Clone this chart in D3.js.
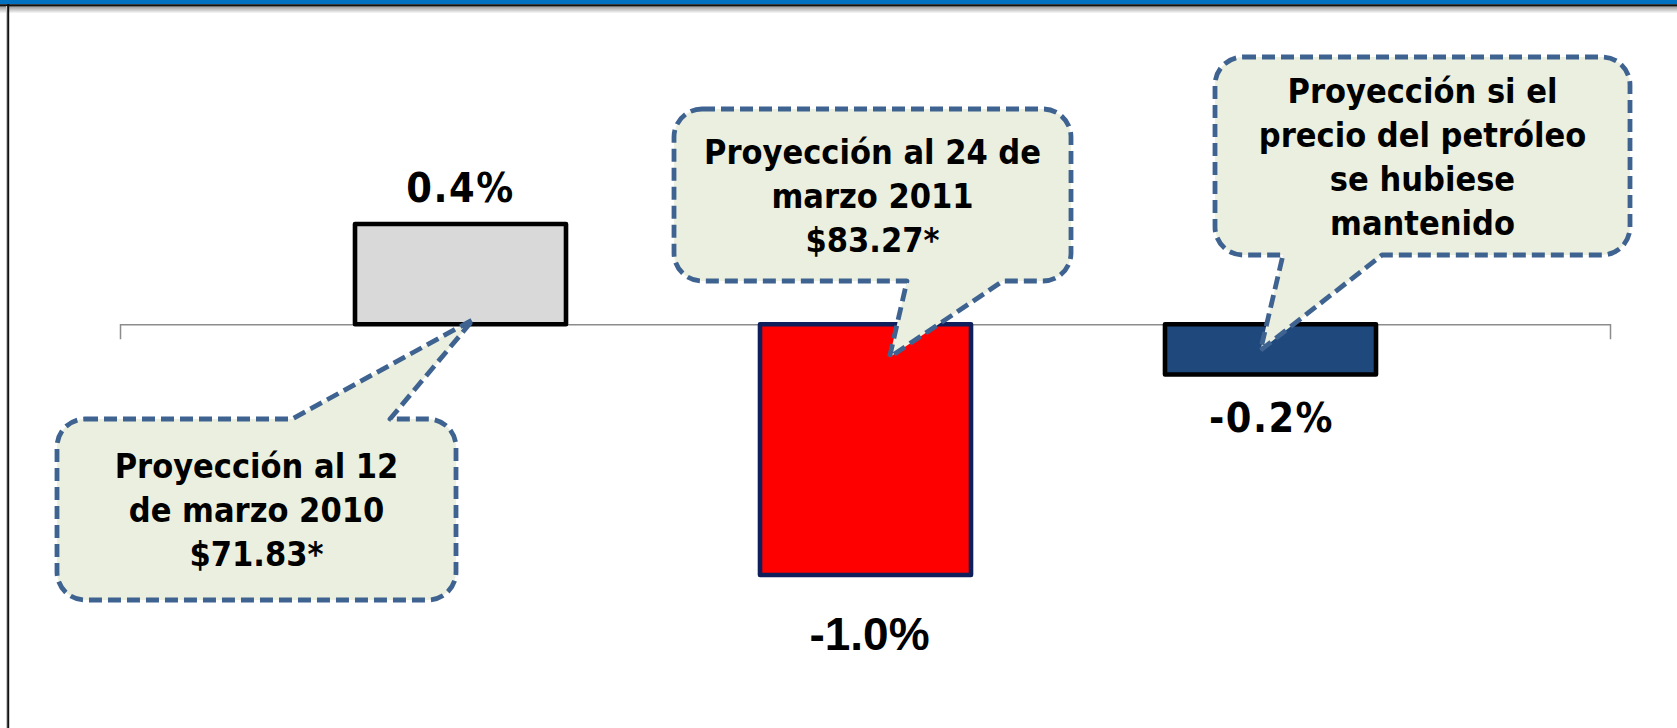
<!DOCTYPE html>
<html>
<head>
<meta charset="utf-8">
<script src="https://cdn.jsdelivr.net/npm/d3@7"></script>
<style>
  html, body { margin: 0; padding: 0; background: #fff; }
  svg { display: block; }
</style>
</head>
<body>
<svg id="chart" width="1677" height="728"></svg>
<script>
// ---------- data ----------
const categories = [
  "Proyección al 12 de marzo 2010",
  "Proyección al 24 de marzo 2011",
  "Proyección si el precio del petróleo se hubiese mantenido"
];
const values = [0.4, -1.0, -0.2];
const valueLabels = ["0.4%", "-1.0%", "-0.2%"];
const calloutLines = [
  ["Proyección al 12", "de marzo 2010", "$71.83*"],
  ["Proyección al 24 de", "marzo 2011", "$83.27*"],
  ["Proyección si el", "precio del petróleo", "se hubiese", "mantenido"]
];

// ---------- styles / layout ----------
const W = 1677, H = 728;
const barFill = ["#D9D9D9", "#FF0000", "#1F497D"];
const barStroke = ["#000000", "#0F1F5C", "#000000"];
const labelFont = ["'DejaVu Sans Condensed','DejaVu Sans',sans-serif",
                   "'Liberation Sans',Arial,sans-serif",
                   "'DejaVu Sans Condensed','DejaVu Sans',sans-serif"];
const labelSize = [41, 46, 41];
const labelOffset = [-22, 75, 58];   // from bar end (negative = above)
const labelDx = [0, 4, 1];

// callout boxes: [x0, y0, x1, y1], pointer base [b1, b2], side, apex offsets (from bar center, from zero line)
const callouts = [
  {box: [57, 419, 456, 600], base: [292, 390], side: "top",    adx: 13,  ady: -5},
  {box: [674, 109, 1071, 281], base: [907, 1003], side: "bottom", adx: 24, ady: 33},
  {box: [1215, 57, 1630, 255], base: [1283, 1382], side: "bottom", adx: -10, ady: 26}
];

const svg = d3.select("#chart");

// ---------- scales ----------
const x = d3.scaleBand()
  .domain(categories)
  .range([258, 1473])
  .paddingInner(0.479)
  .paddingOuter(0.2395);

const y = d3.scaleLinear()
  .domain([-1.0, 0.4])
  .range([575, 224]);

// ---------- frame ----------
const defs = svg.append("defs");
const grad = defs.append("linearGradient").attr("id", "shadow")
  .attr("x1", 0).attr("y1", 0).attr("x2", 0).attr("y2", 1);
grad.append("stop").attr("offset", "0%").attr("stop-color", "#9a9a9a");
grad.append("stop").attr("offset", "100%").attr("stop-color", "#ffffff");

svg.append("rect").attr("x", 0).attr("y", 6.5).attr("width", W).attr("height", 7)
  .attr("fill", "url(#shadow)");
svg.append("rect").attr("x", 0).attr("y", 0).attr("width", W).attr("height", 4.2)
  .attr("fill", "#0070C0");
svg.append("rect").attr("x", 0).attr("y", 4.2).attr("width", W).attr("height", 2.3)
  .attr("fill", "#111");
svg.append("line").attr("x1", 6.5).attr("x2", 6.5).attr("y1", 6).attr("y2", H)
  .attr("stroke", "#c8c8c8").attr("stroke-width", 1);
svg.append("line").attr("x1", 8.2).attr("x2", 8.2).attr("y1", 4).attr("y2", H)
  .attr("stroke", "#111").attr("stroke-width", 2);

// ---------- axis (zero line with end ticks) ----------
const axisScale = d3.scaleLinear().domain([0, 1]).range([120, 1610]);
const axisG = svg.append("g").attr("transform", `translate(0,${y(0)})`)
  .call(d3.axisBottom(axisScale).tickValues([]).tickSizeOuter(15));
axisG.select(".domain").attr("stroke", "#8c8c8c").attr("stroke-width", 1.5);

// ---------- bars ----------
svg.append("g").selectAll("rect")
  .data(values)
  .join("rect")
  .attr("x", (d, i) => x(categories[i]))
  .attr("width", x.bandwidth())
  .attr("y", d => Math.min(y(d), y(0)))
  .attr("height", d => Math.abs(y(d) - y(0)))
  .attr("fill", (d, i) => barFill[i])
  .attr("stroke", (d, i) => barStroke[i])
  .attr("stroke-width", 4.6)
  .attr("stroke-linejoin", "round");

// ---------- callouts ----------
function calloutPath(c, apex) {
  const [x0, y0, x1, y1] = c.box;
  const r = 28;
  const [b1, b2] = c.base;
  const p = d3.path();
  p.moveTo(x0 + r, y0);
  if (c.side === "top") {
    p.lineTo(b1, y0);
    p.lineTo(apex[0], apex[1]);
    p.lineTo(b2, y0);
  }
  p.lineTo(x1 - r, y0);
  p.arcTo(x1, y0, x1, y0 + r, r);
  p.lineTo(x1, y1 - r);
  p.arcTo(x1, y1, x1 - r, y1, r);
  if (c.side === "bottom") {
    p.lineTo(b2, y1);
    p.lineTo(apex[0], apex[1]);
    p.lineTo(b1, y1);
  }
  p.lineTo(x0 + r, y1);
  p.arcTo(x0, y1, x0, y1 - r, r);
  p.lineTo(x0, y0 + r);
  p.arcTo(x0, y0, x0 + r, y0, r);
  p.closePath();
  return p.toString();
}

const cg = svg.append("g").selectAll("g")
  .data(callouts)
  .join("g");

cg.append("path")
  .attr("d", (c, i) => {
    const cx = x(categories[i]) + x.bandwidth() / 2;
    return calloutPath(c, [cx + c.adx, y(0) + c.ady]);
  })
  .attr("fill", "#EBEFDF")
  .attr("stroke", "#3F6391")
  .attr("stroke-width", 4.8)
  .attr("stroke-dasharray", "13,6")
  .attr("stroke-linejoin", "round");

const lineH = 44, capH = 25;
cg.each(function(c, i) {
  const lines = calloutLines[i];
  const cxBox = (c.box[0] + c.box[2]) / 2;
  const cyBox = (c.box[1] + c.box[3]) / 2;
  const firstBase = cyBox - (lines.length - 1) * lineH / 2 + capH / 2;
  d3.select(this).selectAll("text")
    .data(lines)
    .join("text")
    .attr("x", cxBox)
    .attr("y", (d, j) => firstBase + j * lineH)
    .attr("text-anchor", "middle")
    .attr("font-family", "'DejaVu Sans Condensed','DejaVu Sans',sans-serif")
    .attr("font-stretch", "condensed")
    .attr("font-weight", "bold")
    .attr("font-size", 34)
    .attr("fill", "#000")
    .text(d => d);
});

// ---------- value labels ----------
svg.append("g").selectAll("text")
  .data(values)
  .join("text")
  .attr("x", (d, i) => x(categories[i]) + x.bandwidth() / 2 + labelDx[i])
  .attr("y", (d, i) => y(d) + labelOffset[i])
  .attr("text-anchor", "middle")
  .attr("font-family", (d, i) => labelFont[i])
  .attr("font-stretch", (d, i) => i === 1 ? "normal" : "condensed")
  .attr("font-weight", "bold")
  .attr("font-size", (d, i) => labelSize[i])
  .attr("letter-spacing", (d, i) => i === 1 ? 0 : 1.5)
  .attr("fill", "#000")
  .text((d, i) => valueLabels[i]);
</script>
</body>
</html>
